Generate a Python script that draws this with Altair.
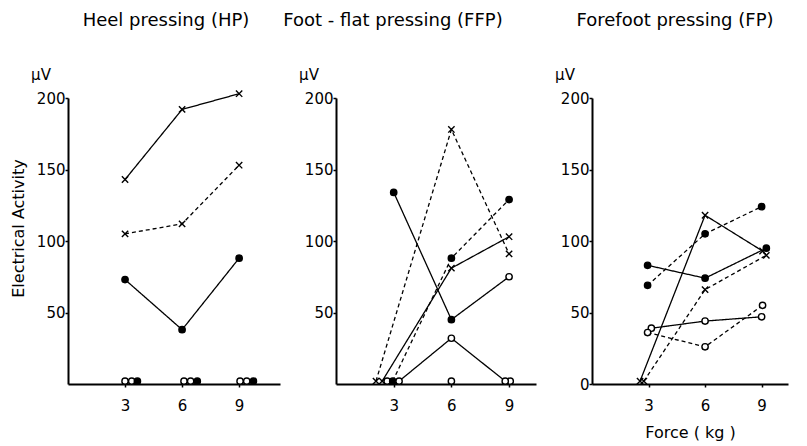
import altair as alt
import pandas as pd

FONT = "DejaVu Sans"

PANEL_TITLES = ["Heel pressing (HP)", "Foot - flat pressing (FFP)", "Forefoot pressing (FP)"]
UNIT = "μV"
Y_TITLE = "Electrical Activity"
X_TITLE = "Force ( kg )"
X_TICKS = [3, 6, 9]
Y_TICKS_A = [50, 100, 150, 200]
Y_TICKS_B = [0, 50, 100, 150, 200]

# series key -> (marker, line style)
SERIES_STYLE = {
    "x_solid": ("cross", "solid"),
    "x_dashed": ("cross", "dashed"),
    "filled_solid": ("circle", "solid"),
    "filled_dashed": ("circle", "dashed"),
    "open_solid": ("circle", "solid"),
    "open_dashed": ("circle", "dashed"),
}
SERIES_FILL = {
    "x_solid": "open", "x_dashed": "open",
    "filled_solid": "filled", "filled_dashed": "filled",
    "open_solid": "open", "open_dashed": "open",
}

# ---- Heel pressing (HP) ----
hp_x_solid_x = [3, 6, 9]
hp_x_solid_y = [143, 192, 203]
hp_x_dashed_x = [3, 6, 9]
hp_x_dashed_y = [105, 112, 153]
hp_filled_solid_x = [3, 6, 9]
hp_filled_solid_y = [73, 38, 88]
hp_open_solid_x = [3.0, 6.1, 9.05]
hp_open_solid_y = [2, 2, 2]
hp_open_dashed_x = [3.35, 6.45, 9.4]
hp_open_dashed_y = [2, 2, 2]
hp_filled_dashed_x = [3.65, 6.8, 9.75]
hp_filled_dashed_y = [2, 2, 2]

# ---- Foot-flat pressing (FFP) ----
ffp_x_dashed_x = [2.08, 6, 9]
ffp_x_dashed_y = [2, 178, 91]
ffp_x_solid_x = [2.4, 6, 9]
ffp_x_solid_y = [2, 81, 103]
ffp_open_dashed_x = [2.66, 6, 9.06]
ffp_open_dashed_y = [2, 2, 2]
ffp_filled_dashed_x = [2.95, 6, 9]
ffp_filled_dashed_y = [2, 88, 129]
ffp_filled_solid_x = [3, 6, 9]
ffp_filled_solid_y = [134, 45, 75]
ffp_filled_solid_fill = ["filled", "filled", "open"]
ffp_open_solid_x = [3.28, 6, 8.8]
ffp_open_solid_y = [2, 32, 2]

# ---- Forefoot pressing (FP) ----
fp_x_solid_x = [2.55, 6, 9.05]
fp_x_solid_y = [2, 118, 93]
fp_x_dashed_x = [2.75, 6, 9.25]
fp_x_dashed_y = [2, 66, 90]
fp_filled_solid_x = [2.95, 6, 9.25]
fp_filled_solid_y = [83, 74, 95]
fp_filled_dashed_x = [2.95, 6, 9.0]
fp_filled_dashed_y = [69, 105, 124]
fp_open_solid_x = [3.15, 6, 9.0]
fp_open_solid_y = [39, 44, 47]
fp_open_dashed_x = [2.95, 6, 9.05]
fp_open_dashed_y = [36, 26, 55]


def rows(series, xs, ys, fills=None):
    marker, dash = SERIES_STYLE[series]
    flat = max(ys) <= 2
    out = []
    for i, (xv, yv) in enumerate(zip(xs, ys)):
        f = fills[i] if fills else SERIES_FILL[series]
        out.append({"series": series, "x": xv, "y": yv, "marker": marker,
                    "dash": dash, "fill": f, "idx": i, "flat": flat})
    return out


hp = pd.DataFrame(
    rows("x_solid", hp_x_solid_x, hp_x_solid_y)
    + rows("x_dashed", hp_x_dashed_x, hp_x_dashed_y)
    + rows("filled_solid", hp_filled_solid_x, hp_filled_solid_y)
    + rows("open_solid", hp_open_solid_x, hp_open_solid_y)
    + rows("open_dashed", hp_open_dashed_x, hp_open_dashed_y)
    + rows("filled_dashed", hp_filled_dashed_x, hp_filled_dashed_y)
)
ffp = pd.DataFrame(
    rows("x_dashed", ffp_x_dashed_x, ffp_x_dashed_y)
    + rows("x_solid", ffp_x_solid_x, ffp_x_solid_y)
    + rows("open_dashed", ffp_open_dashed_x, ffp_open_dashed_y)
    + rows("filled_dashed", ffp_filled_dashed_x, ffp_filled_dashed_y)
    + rows("filled_solid", ffp_filled_solid_x, ffp_filled_solid_y, ffp_filled_solid_fill)
    + rows("open_solid", ffp_open_solid_x, ffp_open_solid_y)
)
fp = pd.DataFrame(
    rows("x_solid", fp_x_solid_x, fp_x_solid_y)
    + rows("x_dashed", fp_x_dashed_x, fp_x_dashed_y)
    + rows("filled_solid", fp_filled_solid_x, fp_filled_solid_y)
    + rows("filled_dashed", fp_filled_dashed_x, fp_filled_dashed_y)
    + rows("open_solid", fp_open_solid_x, fp_open_solid_y)
    + rows("open_dashed", fp_open_dashed_x, fp_open_dashed_y)
)

CROSS = "M -1 -1 L 1 1 M -1 1 L 1 -1"


def panel(df, title, xmax, width, yticks, ytitle, xtitle, title_dx):
    xenc = alt.X("x:Q", scale=alt.Scale(domain=[0, xmax], nice=False, zero=True),
                 axis=alt.Axis(values=X_TICKS, title=xtitle, grid=False, tickSize=3,
                               labelPadding=11, titlePadding=11, labelFlush=False))
    yaxis = dict(values=yticks, grid=False, tickSize=3, labelPadding=0)
    if ytitle:
        yaxis.update(title=ytitle, titlePadding=10, titleY=130)
    else:
        yaxis.update(title=None)
    yenc = alt.Y("y:Q", scale=alt.Scale(domain=[0, 200], nice=False),
                 axis=alt.Axis(**yaxis))
    base = alt.Chart(df)
    lines = base.transform_filter("!datum.flat").mark_line(color="black", strokeWidth=1.3).encode(
        x=xenc, y=yenc, detail="series:N", order="idx:Q",
        strokeDash=alt.StrokeDash("dash:N", scale=alt.Scale(domain=["solid", "dashed"],
                                  range=[[1, 0], [4, 3]]), legend=None),
    )
    pts = base.mark_point(size=40, strokeWidth=1.4, opacity=1, stroke="black").encode(
        x=xenc, y=yenc,
        shape=alt.Shape("marker:N", scale=alt.Scale(domain=["cross", "circle"],
                        range=[CROSS, "circle"]), legend=None),
        fill=alt.Fill("fill:N", scale=alt.Scale(domain=["filled", "open"],
                      range=["black", "white"]), legend=None),
    )
    unit = alt.Chart(pd.DataFrame({"u": [UNIT]})).mark_text(
        fontSize=15, font=FONT, color="black", align="center", baseline="middle"
    ).encode(text="u:N", x=alt.value(-27), y=alt.value(-23))
    return alt.layer(lines, pts, unit).properties(
        width=width, height=286,
        title=alt.TitleParams(title, dx=title_dx, offset=38, fontSize=18, font=FONT,
                              fontWeight="normal", anchor="middle", color="black"),
    )


p1 = panel(hp, PANEL_TITLES[0], 11.15, 212, Y_TICKS_A, Y_TITLE, None, -8)
p2 = panel(ffp, PANEL_TITLES[1], 10.4, 200, Y_TICKS_A, None, None, -43)
p3 = panel(fp, PANEL_TITLES[2], 10.4, 196, Y_TICKS_B, None, X_TITLE, -15)

chart = alt.hconcat(p1, p2, p3, spacing=56, bounds="flush").properties(
    padding={"left": 2, "top": 4, "right": 2, "bottom": 2}, background="white"
).configure_view(stroke=None).configure_axis(
    domainColor="black", domainWidth=2, tickColor="black", tickWidth=1.5,
    labelColor="black", labelFont=FONT, labelFontSize=15,
    titleColor="black", titleFont=FONT, titleFontSize=16, titleFontWeight="normal",
)

chart.save("out.html", embed_options={"renderer": "svg", "actions": False})
